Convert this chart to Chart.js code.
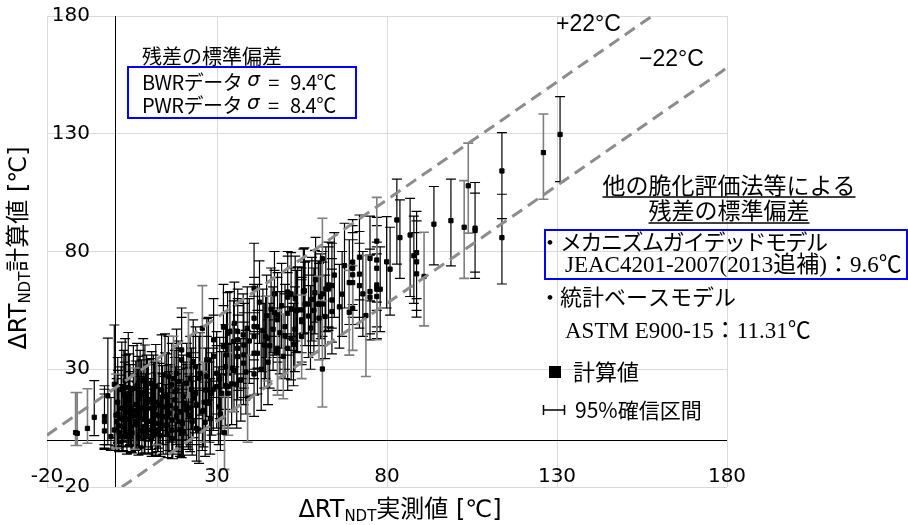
<!DOCTYPE html>
<html lang="ja">
<head>
<meta charset="utf-8">
<title>ΔRTNDT 計算値と実測値</title>
<script src="https://cdn.jsdelivr.net/npm/chart.js@4.4.0/dist/chart.umd.min.js"></script>
<style>
  html, body { margin: 0; padding: 0; background: #fff; }
  #wrap { width: 908px; height: 525px; }
</style>
</head>
<body>
<div id="wrap"><canvas id="chart" width="908" height="525"></canvas></div>
<script>
/* 目盛り */
const xTicks = [-20, 30, 80, 130, 180];
const yTicks = [-20, 30, 80, 130, 180];

/* ±22℃ の線 (端点) */
const plus22X = [-20, 158];
const plus22Y = [2, 180];
const minus22X = [2, 180];
const minus22Y = [-20, 158];

/* [実測値, 計算値, 95%下限, 95%上限] */
const bwrRows = [
  [-11.6, 3.1, -2.4, 20.1], [-11.1, 2.8, -2.4, 20.1], [-8.1, 4.9, -1.4, 21.7],
  [0.3, 10.5, -3.5, 28.0], [5.8, 12.5, -4.0, 30.5], [12.3, 16.0, -2.0, 33.5],
  [17.2, 26.0, 8.0, 44.0], [21.6, 36.1, 18.0, 54.0], [25.7, 47.4, 29.0, 65.5],
  [26.2, 16.0, -1.0, 33.0], [32.2, 3.1, -12.5, 18.5], [33.3, 19.8, 2.0, 37.0],
  [34.6, 30.5, 12.0, 49.0], [39.0, 17.7, -1.0, 36.0], [44.9, 43.2, 25.0, 61.0],
  [47.8, 37.1, 19.0, 55.0], [49.5, 35.5, 17.5, 53.5], [54.9, 43.9, 26.0, 61.5],
  [60.0, 51.7, 34.0, 69.5], [61.0, 30.1, 14.0, 52.0], [61.0, 76.9, 59.0, 94.1],
  [68.9, 54.2, 36.0, 72.0], [69.9, 55.9, 38.0, 74.0], [73.8, 52.8, 26.9, 78.3],
  [77.0, 84.4, 42.5, 103.0], [90.9, 69.4, 48.4, 88.2], [102.7, 90.3, 68.6, 110.1],
  [103.9, 107.9, 87.8, 126.0], [126.0, 122.0, 102.2, 138.4]
];

const pwrRows = [
  [-6.1, 9.6, 1.8, 25.2], [-3.1, 9.9, -2.0, 21.5], [-3.1, 7.8, -3.5, 23.0], [-3.1, 3.8, -4.0, 19.5],
  [-2.1, 18.7, -2.1, 43.2], [-0.2, 23.6, 1.0, 48.8], [-1.2, 1.4, -4.5, 18.0], [-0.2, 4.2, -3.8, 21.0],
  [0.5, 7.8, -2.5, 26.0], [0.9, 11.0, -1.5, 29.5], [1.8, 13.5, -0.5, 31.0], [2.9, 13.5, -1.0, 33.0],
  [1.8, 9.2, -3.0, 27.5], [3.9, 8.8, -2.5, 25.0], [2.4, 5.6, -4.5, 23.0], [4.7, 5.6, -5.0, 22.5],
  [6.4, 6.4, -4.0, 24.5], [8.6, 8.8, -3.0, 26.0], [8.6, 5.6, -5.5, 22.0], [9.8, 4.2, -6.0, 21.5],
  [6.9, 1.4, -6.5, 18.5], [4.7, 1.4, -5.5, 19.0], [8.8, 1.4, -6.0, 20.0], [10.8, 0.7, -7.0, 18.0],
  [12.7, 4.2, -5.0, 22.0], [11.6, 13.5, 1.0, 33.0], [9.8, 13.5, -0.5, 32.0], [7.8, 13.5, 0.0, 34.0],
  [2.0, 1.4, -5.0, 20.5], [2.0, 21.7, 3.5, 41.5], [3.9, 22.2, 4.0, 45.6], [8.8, 24.8, 6.0, 40.3],
  [10.8, 24.1, 7.0, 37.5], [7.4, 19.8, 3.0, 38.0], [9.3, 19.1, 2.5, 36.0], [10.8, 17.0, 1.0, 34.5],
  [13.7, 21.2, 4.0, 44.6], [14.7, 18.4, 2.0, 37.0], [14.7, 27.6, 10.0, 45.0], [16.7, 23.4, 6.0, 41.0],
  [18.1, 28.3, 11.0, 47.0], [19.6, 34.0, 16.0, 52.0], [19.6, 38.2, 20.0, 56.0], [18.1, 21.2, 4.0, 39.0],
  [17.6, 17.0, 0.0, 35.0], [14.2, 9.9, -6.0, 27.0], [15.9, 11.3, -4.5, 29.0], [16.7, 4.2, -8.0, 22.0],
  [18.6, 7.8, -6.0, 25.5], [19.6, 2.8, -7.5, 20.0], [19.1, 12.0, -3.0, 30.0], [18.1, 9.9, -5.0, 28.0],
  [19.1, 4.5, -7.0, 23.0], [20.1, 3.5, -6.5, 21.5], [3.2, 16.5, 0.5, 36.0], [5.5, 10.2, -2.0, 28.0],
  [6.1, 15.0, 1.0, 33.5], [5.0, 3.0, -5.5, 20.5], [7.2, 9.5, -3.5, 27.0], [10.5, 8.0, -4.0, 26.0],
  [11.9, 10.9, -2.5, 28.5], [12.5, 7.0, -5.0, 24.0], [13.4, 1.8, -7.0, 19.0], [15.0, 6.2, -6.0, 23.5],
  [16.2, 14.6, -1.0, 32.0], [17.0, 0.5, -8.0, 17.5], [11.3, 18.4, 2.0, 36.0], [15.7, 26.9, 9.0, 44.0],
  [15.2, 18.4, 1.5, 36.5], [17.6, 20.5, 3.5, 38.0], [18.6, 24.8, 8.0, 42.0], [5.4, 21.9, 4.0, 40.0],
  [8.3, 25.5, 8.0, 43.0], [4.0, 11.8, -3.0, 29.0], [6.8, 11.5, -2.5, 30.0], [13.0, 14.8, -1.5, 32.5],
  [12.0, 2.5, -6.5, 20.5], [1.2, 3.2, -5.0, 21.0], [3.5, 2.2, -6.0, 20.0], [9.0, 11.0, -3.0, 28.0],
  [0.8, 16.0, -1.0, 35.0], [2.6, 19.0, 1.0, 38.0], [4.4, 14.2, -2.0, 32.0], [6.0, 7.9, -4.5, 25.0],
  [7.9, 3.8, -6.0, 21.0], [9.6, 16.0, 0.5, 34.0], [11.0, 5.5, -5.5, 23.0], [12.9, 10.2, -3.5, 28.0],
  [14.0, 14.0, -2.0, 31.5], [15.5, 2.5, -7.5, 20.0], [16.8, 8.4, -5.0, 26.5], [17.9, 13.4, -2.0, 31.0],
  [19.8, 7.0, -6.5, 24.5], [3.0, 25.2, 8.0, 43.0], [6.5, 23.0, 6.0, 41.0], [12.0, 22.8, 5.5, 40.5],
  [1.0, 6.0, -4.5, 23.5], [4.2, 18.5, 1.0, 36.5], [7.0, 17.5, 0.0, 35.5],
  [20.1, 18.4, 2.0, 36.0], [20.6, 15.6, 0.0, 33.0], [21.1, 12.7, -3.0, 30.5], [21.6, 10.6, -4.0, 28.0],
  [21.1, 24.1, 8.0, 41.0], [22.1, 26.2, 9.0, 44.0], [21.1, 14.4, -1.0, 32.0], [22.1, 13.5, -2.0, 31.0],
  [22.1, 9.9, -5.0, 27.0], [23.0, 17.7, 1.0, 35.0], [23.7, 19.8, 3.0, 37.0], [23.7, 31.1, 14.0, 48.0],
  [23.0, 33.2, 16.0, 51.0], [24.7, 26.2, 9.0, 44.0], [25.0, 28.3, 10.5, 45.5], [24.7, 4.2, -10.0, 21.0],
  [24.0, 4.9, -9.0, 22.0], [22.7, 7.8, -6.5, 25.0], [26.7, 21.2, 4.0, 39.0], [27.0, 34.0, 16.5, 51.5],
  [27.5, 34.0, 17.0, 52.0], [28.4, 19.8, 2.0, 37.0], [28.9, 21.5, 4.0, 39.0], [29.9, 28.3, 11.0, 46.0],
  [29.9, 22.6, 5.0, 40.0], [31.4, 19.8, 2.5, 37.5], [31.9, 47.9, 30.0, 66.0], [31.9, 39.6, 22.0, 57.0],
  [32.8, 36.1, 18.0, 54.0], [32.5, 31.1, 13.0, 49.0], [32.5, 23.1, 6.0, 41.0], [33.3, 22.6, 5.0, 40.5],
  [34.3, 23.8, 6.5, 41.0], [33.8, 46.0, 28.0, 63.0], [33.1, 45.3, 27.5, 62.5], [35.1, 49.5, 31.0, 67.0],
  [34.9, 41.8, 24.0, 59.0], [35.8, 23.4, 5.0, 41.0], [36.1, 46.0, 28.0, 64.0], [36.1, 42.5, 24.5, 60.0],
  [36.1, 38.9, 21.0, 57.0], [36.1, 35.4, 17.0, 53.0], [37.7, 44.6, 26.0, 62.0], [37.9, 40.3, 22.0, 58.0],
  [37.9, 36.1, 18.0, 54.0], [37.8, 32.6, 15.0, 50.0], [38.9, 47.4, 29.0, 65.0], [26.0, 12.5, -3.0, 29.0],
  [28.0, 9.0, -6.0, 26.0], [30.5, 14.0, -2.0, 31.0], [27.0, 27.0, 10.0, 44.0], [25.7, 12.0, -4.5, 28.5],
  [22.5, 21.5, 4.5, 39.0], [24.0, 14.8, -2.0, 32.0], [26.5, 7.5, -7.0, 24.5], [27.8, 15.5, -1.0, 33.0],
  [29.0, 35.5, 18.0, 53.0], [30.8, 26.0, 9.0, 43.5], [31.0, 11.0, -4.5, 28.0], [35.0, 29.5, 12.0, 47.0],
  [37.0, 25.5, 8.0, 43.0], [38.5, 28.8, 11.0, 46.5], [39.5, 42.0, 24.0, 60.0], [29.0, 42.5, 25.0, 60.0],
  [40.9, 64.4, 46.0, 83.5], [40.9, 51.7, 34.0, 69.0], [40.9, 48.1, 30.0, 66.0], [40.9, 43.9, 26.0, 61.0],
  [41.9, 48.1, 30.5, 66.0], [40.9, 36.8, 19.0, 54.0], [41.9, 36.8, 19.5, 55.0], [40.9, 28.0, 10.0, 45.0],
  [43.9, 40.3, 22.0, 58.0], [44.3, 43.9, 26.0, 61.0], [44.6, 52.7, 35.0, 70.0], [45.9, 55.5, 37.0, 73.0],
  [46.9, 62.0, 44.0, 80.0], [46.9, 54.1, 36.0, 72.0], [47.8, 53.1, 35.0, 71.0], [47.8, 51.0, 33.0, 69.0],
  [47.8, 38.9, 21.0, 56.0], [50.8, 62.8, 45.0, 80.0], [51.8, 62.0, 44.0, 79.5], [50.8, 60.6, 43.0, 78.0],
  [53.4, 54.9, 37.0, 72.0], [50.8, 53.8, 36.0, 71.0], [51.8, 55.5, 38.0, 73.0], [50.0, 48.1, 30.0, 66.0],
  [50.0, 44.2, 26.0, 62.0], [51.8, 43.2, 25.5, 61.0], [50.8, 38.9, 21.0, 56.5], [55.4, 63.0, 45.0, 81.0],
  [54.9, 55.2, 37.0, 73.0], [54.9, 51.0, 33.0, 69.0], [43.0, 30.0, 12.5, 47.0], [45.0, 33.0, 15.0, 51.0],
  [48.5, 45.5, 28.0, 63.0], [52.9, 47.0, 29.0, 65.0], [53.7, 55.2, 37.5, 73.5], [54.9, 50.2, 32.0, 68.0],
  [42.5, 58.5, 41.0, 76.0], [43.5, 46.5, 29.0, 64.0], [45.5, 40.0, 22.0, 58.0], [46.5, 47.0, 29.5, 65.0],
  [49.0, 57.0, 39.0, 75.0], [52.5, 40.5, 23.0, 58.0], [53.0, 60.0, 42.0, 78.0], [57.5, 47.5, 30.0, 65.5],
  [58.5, 55.0, 37.0, 73.0], [59.0, 68.0, 50.0, 86.0], [64.5, 70.0, 52.0, 88.0], [66.0, 56.5, 39.0, 74.5],
  [67.5, 74.0, 56.0, 92.0],
  [55.7, 63.3, 45.5, 81.5], [55.9, 57.7, 40.0, 75.5], [56.9, 57.7, 40.0, 76.0], [56.9, 52.6, 35.0, 70.0],
  [57.9, 59.7, 42.0, 77.5], [58.8, 62.5, 45.0, 80.5], [60.0, 57.6, 40.0, 75.0], [61.0, 62.0, 44.0, 80.0],
  [61.0, 57.7, 40.0, 75.5], [61.8, 52.4, 34.5, 70.0], [62.0, 64.1, 46.0, 82.0], [62.8, 64.1, 46.5, 82.0],
  [62.8, 65.8, 48.0, 84.0], [63.8, 65.5, 47.5, 83.5], [63.8, 59.4, 41.5, 77.0], [63.8, 54.5, 36.5, 72.5],
  [66.8, 61.9, 44.0, 80.0], [68.9, 66.8, 49.0, 85.0], [69.9, 75.5, 57.5, 93.5], [69.9, 72.9, 55.0, 91.0],
  [69.9, 70.1, 52.0, 88.0], [69.9, 66.8, 49.0, 85.0], [59.8, 57.7, 40.0, 76.0], [60.5, 60.9, 43.0, 79.0],
  [71.9, 77.6, 59.5, 95.5], [71.9, 70.4, 52.0, 88.5], [71.9, 65.5, 47.5, 83.5], [72.9, 62.0, 44.0, 80.0],
  [75.0, 77.1, 59.0, 95.0], [75.0, 63.0, 45.0, 81.0], [75.0, 60.6, 42.5, 78.5], [77.0, 76.4, 58.5, 94.5],
  [77.0, 72.9, 55.0, 91.0], [77.0, 65.8, 48.0, 84.0], [77.0, 64.0, 46.0, 82.0], [78.0, 64.0, 46.0, 82.0],
  [77.0, 60.9, 43.0, 79.0], [79.9, 75.6, 56.0, 94.8], [80.9, 72.5, 53.0, 90.3], [82.9, 93.4, 74.6, 110.7],
  [83.8, 85.9, 68.6, 101.9], [86.8, 87.0, 60.9, 102.6], [87.9, 78.2, 58.0, 95.0], [88.7, 79.5, 60.0, 97.0],
  [88.7, 75.6, 55.0, 93.0], [88.7, 70.5, 52.1, 88.0], [93.8, 91.6, 74.3, 107.6], [98.8, 93.1, 73.9, 110.7],
  [105.9, 89.9, 71.2, 104.8], [105.9, 88.9, 68.6, 109.3], [113.8, 114.2, 94.0, 130.5], [113.8, 85.9, 66.2, 104.3],
  [130.9, 129.7, 109.7, 145.8]
];

const jp = '"Noto Sans CJK JP", "Noto Sans", sans-serif';
const latinJp = '"DejaVu Sans", "Noto Sans CJK JP", sans-serif';
const serif = '"Liberation Serif", "Noto Sans CJK JP", serif';

function toPoints(rows) {
  return rows.map(r => ({ x: r[0], y: r[1] }));
}
function toLine(xs, ys) {
  return xs.map((x, i) => ({ x: x, y: ys[i] }));
}

// 文字を左から順に描く (下付き文字用)
function richText(ctx, parts, cx, cy) {
  let w = 0;
  parts.forEach(p => { ctx.font = p.font; p.w = ctx.measureText(p.t).width; w += p.w; });
  let x = cx - w / 2;
  parts.forEach(p => {
    ctx.font = p.font;
    ctx.fillText(p.t, x, cy + (p.dy || 0));
    x += p.w;
  });
}

// 「BWRデータ σ = 9.4℃」の1行
function sigmaLine(ctx, head, val, x, y) {
  ctx.font = '20px ' + jp;
  ctx.fillText(head, x, y);
  const sx = x + ctx.measureText(head).width + 5;
  ctx.font = 'italic 20px "DejaVu Sans", sans-serif';
  ctx.fillText('σ', sx, y - 1);
  ctx.font = '20px ' + jp;
  ctx.fillText('=', sx + 21, y);
  ctx.fillText(val, sx + 43, y);
}

/* 0 の軸線と 95% 区間のひげ */
const errorBars = {
  id: 'errorBars',
  beforeDatasetsDraw(chart) {
    const ctx = chart.ctx, xs = chart.scales.x, ys = chart.scales.y;
    const area = chart.chartArea;
    ctx.save();
    ctx.strokeStyle = '#000';
    ctx.lineWidth = 1;
    ctx.beginPath();
    const x0 = Math.round(xs.getPixelForValue(0)) + 0.5;
    const y0 = Math.round(ys.getPixelForValue(0)) + 0.5;
    ctx.moveTo(x0, area.top); ctx.lineTo(x0, area.bottom);
    ctx.moveTo(area.left, y0); ctx.lineTo(area.right, y0);
    ctx.stroke();

    [[pwrRows, '#000', 1.2], [bwrRows, '#7f7f7f', 1.6]].forEach(s => {
      ctx.strokeStyle = s[1];
      ctx.lineWidth = s[2];
      ctx.beginPath();
      s[0].forEach(r => {
        const px = xs.getPixelForValue(r[0]);
        const top = ys.getPixelForValue(r[3]);
        const bot = ys.getPixelForValue(r[2]);
        ctx.moveTo(px, top); ctx.lineTo(px, bot);
        ctx.moveTo(px - 5, top); ctx.lineTo(px + 5, top);
        ctx.moveTo(px - 5, bot); ctx.lineTo(px + 5, bot);
      });
      ctx.stroke();
    });
    ctx.restore();
  }
};

/* 目盛りの数字, 軸のタイトル, 注記 */
const labels = {
  id: 'labels',
  afterDraw(chart) {
    const ctx = chart.ctx, xs = chart.scales.x, ys = chart.scales.y;
    ctx.save();
    ctx.fillStyle = '#000';
    ctx.textBaseline = 'middle';

    ctx.font = '20px "DejaVu Sans", sans-serif';
    ctx.textAlign = 'right';
    yTicks.forEach(v => ctx.fillText(String(v), 90, ys.getPixelForValue(v)));
    ctx.textAlign = 'center';
    xTicks.forEach(v => ctx.fillText(String(v), xs.getPixelForValue(v), ys.getPixelForValue(-20) - 10));

    // 軸タイトル
    ctx.textAlign = 'left';
    richText(ctx, [
      { t: 'ΔRT', font: '24px ' + latinJp },
      { t: 'NDT', font: '15px ' + latinJp, dy: 6 },
      { t: '実測値 [℃]', font: '24px ' + latinJp }
    ], 400, 511);
    ctx.save();
    ctx.translate(20, 248);
    ctx.rotate(-Math.PI / 2);
    richText(ctx, [
      { t: 'ΔRT', font: '24px ' + latinJp },
      { t: 'NDT', font: '15px ' + latinJp, dy: 6 },
      { t: '計算値 [℃]', font: '24px ' + latinJp }
    ], 0, 0);
    ctx.restore();

    // ±22℃
    ctx.font = '23px "Liberation Sans", Arial, sans-serif';
    ctx.fillText('+22°C', 556, 25);
    ctx.fillText('\u221222°C', 639, 60);

    // 左上の注記
    ctx.font = '20px ' + jp;
    ctx.fillText('残差の標準偏差', 142, 56);
    if ('letterSpacing' in ctx) ctx.letterSpacing = '-0.5px';
    sigmaLine(ctx, 'BWRデータ', '9.4℃', 142, 82);
    sigmaLine(ctx, 'PWRデータ', '8.4℃', 142, 105);
    if ('letterSpacing' in ctx) ctx.letterSpacing = '0px';
    ctx.strokeStyle = '#0000ff';
    ctx.lineWidth = 2;
    ctx.strokeRect(128, 67, 228, 51);

    // 右側の注記
    ctx.font = '23px ' + jp;
    ctx.textAlign = 'center';
    ctx.fillText('他の脆化評価法等による', 729, 185);
    ctx.fillText('残差の標準偏差', 729, 210);
    ctx.textAlign = 'left';
    ctx.strokeStyle = '#000';
    ctx.lineWidth = 1.5;
    ctx.beginPath();
    let w1 = ctx.measureText('他の脆化評価法等による').width;
    let w2 = ctx.measureText('残差の標準偏差').width;
    ctx.moveTo(729 - w1 / 2, 197); ctx.lineTo(729 + w1 / 2, 197);
    ctx.moveTo(729 - w2 / 2, 223); ctx.lineTo(729 + w2 / 2, 223);
    ctx.stroke();

    ctx.font = '22px ' + jp;
    ctx.fillText('・', 539, 242);
    ctx.fillText('・', 539, 297);
    if ('letterSpacing' in ctx) ctx.letterSpacing = '-1.5px';
    ctx.fillText('メカニズムガイデッドモデル', 560, 242);
    if ('letterSpacing' in ctx) ctx.letterSpacing = '0px';
    ctx.fillText('統計ベースモデル', 560, 297);
    ctx.font = '23px ' + serif;
    ctx.fillText('JEAC4201-2007(2013追補)：9.6℃', 565, 266);
    ctx.fillText('ASTM E900-15：11.31℃', 565, 332);
    ctx.strokeStyle = '#0000ff';
    ctx.lineWidth = 2;
    ctx.strokeRect(545, 230, 362, 49);

    // 凡例
    ctx.fillRect(549, 366, 12, 12);
    ctx.font = '22px ' + jp;
    ctx.fillText('計算値', 573, 372);
    ctx.strokeStyle = '#000';
    ctx.lineWidth = 1.5;
    ctx.beginPath();
    ctx.moveTo(543, 410); ctx.lineTo(565, 410);
    ctx.moveTo(543.5, 405); ctx.lineTo(543.5, 415);
    ctx.moveTo(564.5, 405); ctx.lineTo(564.5, 415);
    ctx.stroke();
    ctx.font = '21px ' + jp;
    ctx.fillText('95%確信区間', 575, 410);
    ctx.restore();
  }
};

const axisOpts = ticks => ({
  type: 'linear',
  min: ticks[0],
  max: ticks[ticks.length - 1],
  afterBuildTicks: axis => { axis.ticks = ticks.map(v => ({ value: v })); },
  ticks: { display: false },
  grid: { color: '#d9d9d9', lineWidth: 1, drawTicks: false },
  border: { display: false }
});

new Chart(document.getElementById('chart'), {
  type: 'scatter',
  data: {
    datasets: [
      {
        label: '+22℃',
        data: toLine(plus22X, plus22Y),
        showLine: true,
        borderColor: '#8c8c8c',
        borderWidth: 3,
        borderDash: [12, 7],
        pointRadius: 0,
        order: 0
      },
      {
        label: '−22℃',
        data: toLine(minus22X, minus22Y),
        showLine: true,
        borderColor: '#8c8c8c',
        borderWidth: 3,
        borderDash: [12, 7],
        pointRadius: 0,
        order: 0
      },
      {
        label: 'BWRデータ',
        data: toPoints(bwrRows),
        pointStyle: 'rect',
        pointRadius: 3,
        backgroundColor: '#000',
        borderColor: '#000',
        borderWidth: 1,
        order: 1
      },
      {
        label: 'PWRデータ',
        data: toPoints(pwrRows),
        pointStyle: 'rect',
        pointRadius: 3,
        backgroundColor: '#000',
        borderColor: '#000',
        borderWidth: 1,
        order: 2
      }
    ]
  },
  options: {
    responsive: false,
    animation: false,
    devicePixelRatio: 1,
    layout: { padding: { left: 47, top: 16, right: 181, bottom: 38 } },
    plugins: { legend: { display: false }, tooltip: { enabled: false } },
    scales: { x: axisOpts(xTicks), y: axisOpts(yTicks) }
  },
  plugins: [errorBars, labels]
});
</script>
</body>
</html>
